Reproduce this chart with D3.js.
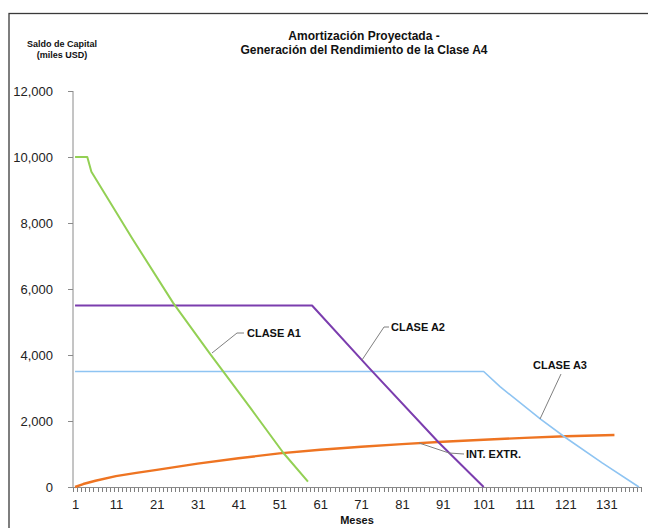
<!DOCTYPE html>
<html>
<head>
<meta charset="utf-8">
<script src="https://cdn.jsdelivr.net/npm/d3@7"></script>
<style>
  html, body { margin: 0; padding: 0; background: #fff; }
  svg { display: block; font-family: "Liberation Sans", Arial, sans-serif; }
</style>
</head>
<body>
<svg id="chart" width="648" height="528"></svg>
<script>
// Projected principal balance per class, [month, balance in thousands USD]
const claseA1 = [[1, 10000], [4, 10000], [5, 9550], [15, 7530], [25, 5580], [34, 4040], [44, 2380], [52, 1030], [58, 160]];
const claseA2 = [[1, 5500], [59, 5500], [73, 3600], [90, 1350], [101, 0]];
const claseA3 = [[1, 3500], [101, 3500], [105, 3040], [115, 2050], [121, 1500], [130, 730], [139, 0]];
const intExtr = [[1, 0], [3, 90], [6, 190], [11, 330], [16, 430], [21, 520], [31, 710], [41, 870], [51, 1020], [61, 1130], [71, 1220], [81, 1300], [91, 1370], [101, 1430], [111, 1490], [121, 1540], [133, 1575]];

const monthCount = 139;
const xTickLabels = [1, 11, 21, 31, 41, 51, 61, 71, 81, 91, 101, 111, 121, 131];
const yTickValues = [0, 2000, 4000, 6000, 8000, 10000, 12000];

const titleLines = ["Amortización Proyectada  -", "Generación del Rendimiento de la Clase A4"];
const yTitleLines = ["Saldo de Capital", "(miles USD)"];
const xTitle = "Meses";

const svg = d3.select("#chart");

// outer frame (clipped by the canvas on the right and bottom)
svg.append("rect")
  .attr("x", 9).attr("y", 13.5).attr("width", 700).attr("height", 600)
  .attr("fill", "none").attr("stroke", "#3a3a3a").attr("stroke-width", 1.3);

const x = d3.scaleLinear().domain([0.5, monthCount + 0.5]).range([73, 641]);
const y = d3.scaleLinear().domain([0, 12000]).range([487, 91]);

// Y axis
const yAxis = d3.axisLeft(y).tickValues(yTickValues).tickSize(5).tickPadding(15)
  .tickFormat(d3.format(","));
const gy = svg.append("g").attr("transform", "translate(73,0)").call(yAxis);
gy.select(".domain").attr("stroke", "#8a8a8a").attr("d", "M0,91V487");
gy.selectAll(".tick line").attr("stroke", "#8a8a8a");
gy.selectAll(".tick text").attr("font-size", 13).attr("fill", "#222");

// X axis: a minor tick at every month boundary, labels every 10 months
const boundaries = d3.range(0, monthCount + 1).map(k => k + 0.5);
svg.append("g").attr("class", "minor-ticks")
  .selectAll("line").data(boundaries).join("line")
  .attr("x1", d => Math.round(x(d)) + 0.5).attr("x2", d => Math.round(x(d)) + 0.5)
  .attr("y1", y(0)).attr("y2", y(0) + 5)
  .attr("stroke", "#808080").attr("stroke-width", 1);
svg.append("line")
  .attr("x1", x(0.5)).attr("x2", x(monthCount + 0.5))
  .attr("y1", y(0) + 0.5).attr("y2", y(0) + 0.5)
  .attr("stroke", "#8a8a8a").attr("stroke-width", 1);

const gxLabels = svg.append("g").attr("transform", "translate(0,487)")
  .call(d3.axisBottom(x).tickValues(xTickLabels).tickSize(0).tickPadding(13));
gxLabels.select(".domain").remove();
gxLabels.selectAll(".tick text").attr("font-size", 13).attr("fill", "#222");

// series
const line = d3.line().x(d => x(d[0])).y(d => y(d[1]));
const series = [
  { data: intExtr, color: "#EE7422", width: 2.4 },
  { data: claseA3, color: "#8EC4F2", width: 1.6 },
  { data: claseA2, color: "#7B3DAE", width: 2 },
  { data: claseA1, color: "#93D054", width: 2 }
];
svg.append("g").selectAll("path").data(series).join("path")
  .attr("d", d => line(d.data))
  .attr("fill", "none")
  .attr("stroke", d => d.color)
  .attr("stroke-width", d => d.width)
  .attr("stroke-linejoin", "round");

// callout labels with leader lines
const callouts = [
  { text: "CLASE A1", tx: 247, ty: 337, pts: [[212, 353], [237, 333], [244, 333]] },
  { text: "CLASE A2", tx: 391, ty: 331, pts: [[362, 360], [384, 327], [389, 327]] },
  { text: "CLASE A3", tx: 533, ty: 369, pts: [[540, 419], [561, 374]] },
  { text: "INT. EXTR.", tx: 466, ty: 458, pts: [[419, 443], [449, 453], [464, 454]] }
];
const gc = svg.append("g");
callouts.forEach(c => {
  gc.append("path").attr("d", d3.line()(c.pts))
    .attr("fill", "none").attr("stroke", "#7f7f7f").attr("stroke-width", 1);
  gc.append("text").attr("x", c.tx).attr("y", c.ty)
    .attr("font-size", 11).attr("font-weight", "bold").attr("fill", "#111")
    .text(c.text);
});

// titles
svg.append("g").selectAll("text").data(titleLines).join("text")
  .attr("x", 364).attr("y", (d, i) => 40 + i * 14)
  .attr("text-anchor", "middle").attr("font-size", 12).attr("font-weight", "bold")
  .attr("fill", "#111").text(d => d);

svg.append("g").selectAll("text").data(yTitleLines).join("text")
  .attr("x", 62).attr("y", (d, i) => 47 + i * 11)
  .attr("text-anchor", "middle").attr("font-size", 9).attr("font-weight", "bold")
  .attr("fill", "#111").text(d => d);

svg.append("text").attr("x", 357).attr("y", 524)
  .attr("text-anchor", "middle").attr("font-size", 11).attr("font-weight", "bold")
  .attr("fill", "#111").text(xTitle);
</script>
</body>
</html>
